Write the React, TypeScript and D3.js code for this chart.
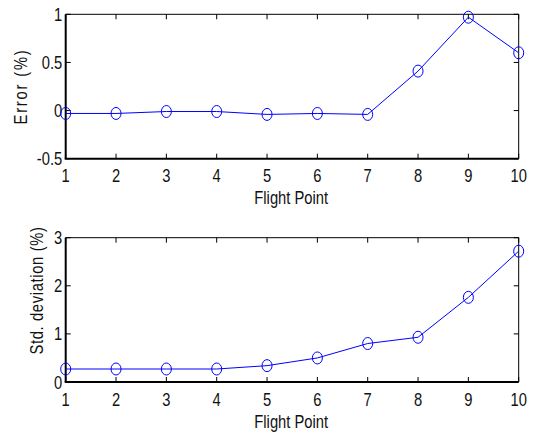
import React from "react";
import * as d3 from "d3";

const flightPoints = [1, 2, 3, 4, 5, 6, 7, 8, 9, 10];
const errorValues = [-0.03, -0.03, -0.01, -0.01, -0.04, -0.03, -0.04, 0.41, 0.97, 0.6];
const stdValues = [0.27, 0.27, 0.27, 0.27, 0.34, 0.5, 0.8, 0.93, 1.76, 2.72];
const errorTicks = [-0.5, 0, 0.5, 1];
const errorTickLabels = ["-0.5", "0", "0.5", "1"];
const stdTicks = [0, 1, 2, 3];
const stdTickLabels = ["0", "1", "2", "3"];
const xLabel = "Flight Point";
const errorLabel = "Error (%)";
const stdLabel = "Std. deviation (%)";

const FONT = "'Liberation Sans', Arial, sans-serif";
const BLUE = "#0000ff";
const SX = 0.82;

function T(props: {
  x: number;
  y: number;
  anchor: "start" | "middle" | "end";
  rotate?: boolean;
  spacing?: number;
  children: string;
}) {
  const tf = props.rotate
    ? `translate(${props.x},${props.y}) rotate(-90) scale(${SX},1)`
    : `translate(${props.x},${props.y}) scale(${SX},1)`;
  return (
    <text
      transform={tf}
      textAnchor={props.anchor}
      fontFamily={FONT}
      fontSize={18}
      letterSpacing={props.spacing || 0}
      fill="#111"
    >
      {props.children}
    </text>
  );
}

type PanelProps = {
  top: number;
  bottom: number;
  yDomain: [number, number];
  yTicks: number[];
  yTickLabels: string[];
  values: number[];
  yLabel: string;
  yLabelX: number;
  yLabelY: number;
  yLabelSpacing: number;
};

function Panel(p: PanelProps) {
  const left = 65.7;
  const right = 518.7;
  const x = d3.scaleLinear().domain([1, 10]).range([left, right]);
  const y = d3.scaleLinear().domain(p.yDomain).range([p.bottom, p.top]);
  const line = d3
    .line<number>()
    .x((_, i) => x(flightPoints[i]))
    .y((d) => y(d));
  const tl = 5;
  return (
    <g>
      <line x1={left} x2={right} y1={p.top} y2={p.top} stroke="#000" strokeWidth={1} />
      <line x1={right} x2={right} y1={p.top} y2={p.bottom} stroke="#000" strokeWidth={1} />
      <line x1={left - 1} x2={right} y1={p.bottom} y2={p.bottom} stroke="#000" strokeWidth={2} />
      <line x1={left} x2={left} y1={p.top} y2={p.bottom} stroke="#000" strokeWidth={2} />
      {flightPoints.map((v) => (
        <g key={"xt" + v}>
          <line x1={x(v)} x2={x(v)} y1={p.bottom} y2={p.bottom - tl} stroke="#000" strokeWidth={1} />
          <line x1={x(v)} x2={x(v)} y1={p.top} y2={p.top + tl} stroke="#000" strokeWidth={1} />
          <T x={x(v)} y={p.bottom + 23.5} anchor="middle">
            {String(v)}
          </T>
        </g>
      ))}
      {p.yTicks.map((v, i) => (
        <g key={"yt" + v}>
          <line x1={left} x2={left + tl} y1={y(v)} y2={y(v)} stroke="#000" strokeWidth={1} />
          <line x1={right} x2={right - tl} y1={y(v)} y2={y(v)} stroke="#000" strokeWidth={1} />
          <T x={left - 3.5} y={y(v) + 6.5} anchor="end">
            {p.yTickLabels[i]}
          </T>
        </g>
      ))}
      <T x={(left + right) / 2 - 1} y={p.bottom + 45.5} anchor="middle">
        {xLabel}
      </T>
      <T x={p.yLabelX} y={p.yLabelY} anchor="middle" rotate spacing={p.yLabelSpacing}>
        {p.yLabel}
      </T>
      <path d={line(p.values) || ""} fill="none" stroke={BLUE} strokeWidth={1} />
      {p.values.map((v, i) => (
        <ellipse
          key={"m" + i}
          cx={x(flightPoints[i])}
          cy={y(v)}
          rx={5}
          ry={6}
          fill="none"
          stroke={BLUE}
          strokeWidth={1}
        />
      ))}
    </g>
  );
}

export default function App() {
  return (
    <svg
      width={536}
      height={436}
      style={{ position: "absolute", left: 0, top: 0, background: "#fff" }}
    >
      <rect width={536} height={436} fill="#fff" />
      <Panel
        top={14.3}
        bottom={158.7}
        yDomain={[-0.5, 1]}
        yTicks={errorTicks}
        yTickLabels={errorTickLabels}
        values={errorValues}
        yLabel={errorLabel}
        yLabelX={27}
        yLabelY={86.5}
        yLabelSpacing={2.2}
      />
      <Panel
        top={237.7}
        bottom={382}
        yDomain={[0, 3]}
        yTicks={stdTicks}
        yTickLabels={stdTickLabels}
        values={stdValues}
        yLabel={stdLabel}
        yLabelX={43}
        yLabelY={290.5}
        yLabelSpacing={0.8}
      />
    </svg>
  );
}
